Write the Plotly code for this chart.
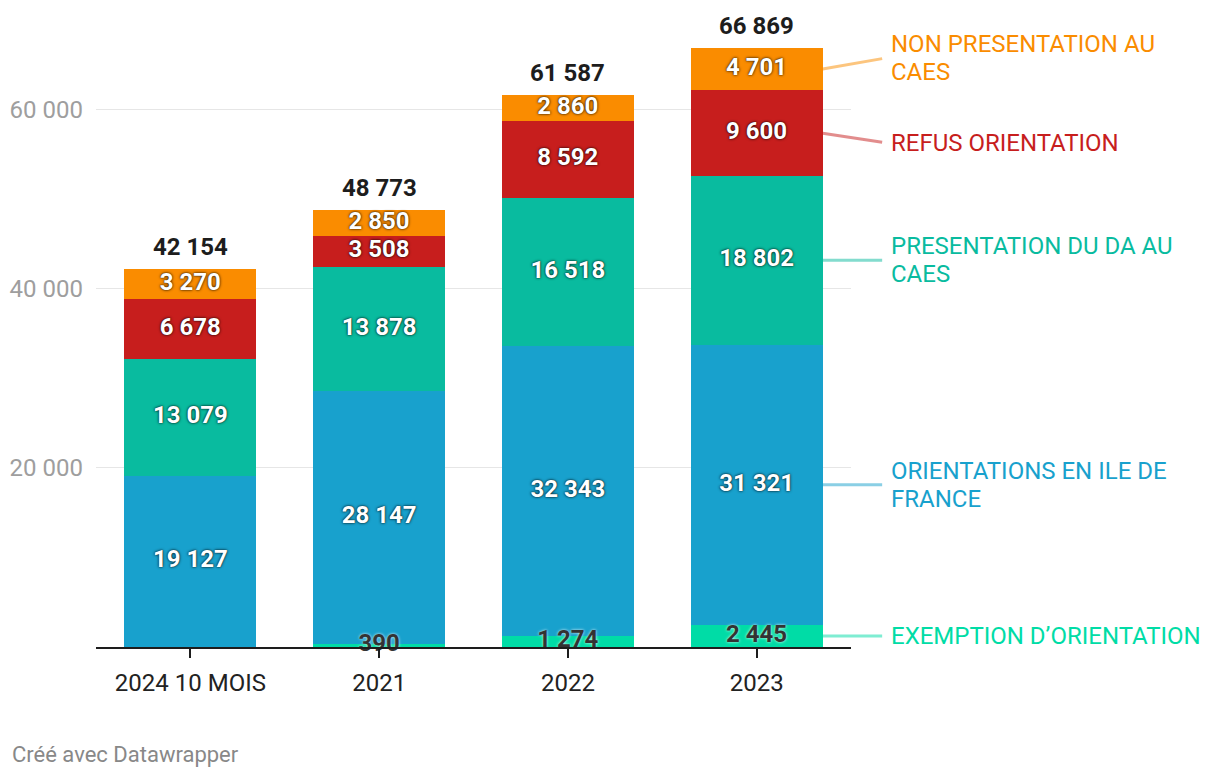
import plotly.graph_objects as go

# ---------------- data ----------------
categories = ["2024 10 MOIS", "2021", "2022", "2023"]
exemption = [0, 390, 1274, 2445]
orientations_idf = [19127, 28147, 32343, 31321]
presentation_da = [13079, 13878, 16518, 18802]
refus = [6678, 3508, 8592, 9600]
non_presentation = [3270, 2850, 2860, 4701]
y_tick_values = [20000, 40000, 60000]

series = [
    ("EXEMPTION D’ORIENTATION", exemption, "#00dca6", ["EXEMPTION D’ORIENTATION"]),
    ("ORIENTATIONS EN ILE DE FRANCE", orientations_idf, "#18a1cd", ["ORIENTATIONS EN ILE DE", "FRANCE"]),
    ("PRESENTATION DU DA AU CAES", presentation_da, "#09bb9f", ["PRESENTATION DU DA AU", "CAES"]),
    ("REFUS ORIENTATION", refus, "#c71e1d", ["REFUS ORIENTATION"]),
    ("NON PRESENTATION AU CAES", non_presentation, "#fa8c00", ["NON PRESENTATION AU", "CAES"]),
]
connector_colors = {
    "#00dca6": "rgba(0,220,166,0.5)",
    "#18a1cd": "rgba(24,161,205,0.5)",
    "#09bb9f": "rgba(9,187,159,0.5)",
    "#c71e1d": "rgba(199,30,29,0.5)",
    "#fa8c00": "rgba(250,140,0,0.5)",
}
# vertical nudge (data units) for direct labels to avoid collisions
label_nudge = {"NON PRESENTATION AU CAES": 1200, "REFUS ORIENTATION": -1050}

FONT = "Roboto"
BARGAP = 0.3


def fmt(v):
    return f"{v:,}".replace(",", " ")


fig = go.Figure()
n = len(categories)
idx = list(range(n))
base = [0] * n
label_points = []
for name, vals, color, lines in series:
    fig.add_trace(go.Bar(
        x=categories, y=vals, name=name, marker=dict(color=color, line=dict(width=0)),
        showlegend=False, hovertemplate="%{x}<br>" + name + ": %{y}<extra></extra>",
    ))
    mids = [b + v / 2 for b, v in zip(base, vals)]
    light = color == "#00dca6"
    txt = [fmt(v) if v > 0 else "" for v in vals]
    fig.add_trace(go.Scatter(
        x=categories, y=mids, mode="text", text=txt, showlegend=False, hoverinfo="skip",
        cliponaxis=False,
        textfont=dict(family=FONT, size=24, weight=700,
                      color="#333333" if light else "#ffffff",
                      shadow=("0px 0px 3px rgba(255,255,255,0.9)" if light
                              else "0px 0px 3px rgba(0,0,0,0.9), 0px 0px 1px rgba(0,0,0,0.6)")),
    ))
    label_points.append((name, mids[-1], color, lines))
    base = [b + v for b, v in zip(base, vals)]

totals = base
for i, t in zip(idx, totals):
    fig.add_annotation(x=i, y=t, xref="x", yref="y", text=fmt(t), showarrow=False,
                       yanchor="bottom", yshift=6,
                       font=dict(family=FONT, size=24, color="#1d1d1d", weight=700))

last = n - 1
bar_edge = last + (1 - BARGAP) / 2
conn_end = last + 0.673
label_x = last + 0.70
label_x_paper = (label_x + 0.5) / n
for name, mid, color, lines in label_points:
    ly = mid + label_nudge.get(name, 0)
    fig.add_annotation(x=bar_edge, y=mid, ax=conn_end, ay=ly, xref="x", yref="y", axref="x", ayref="y",
                       text="", showarrow=True, arrowhead=0, arrowwidth=3,
                       arrowcolor=connector_colors[color], standoff=0, startstandoff=0,
                       font=dict(size=1))
    k = len(lines)
    for i, line in enumerate(lines):
        shift = (k - 1) * 14 - i * 28
        fig.add_annotation(x=label_x_paper, xref="paper", y=ly, yref="y", text=line, showarrow=False,
                           xanchor="left", yanchor="middle",
                           yshift=shift, font=dict(family=FONT, size=24, color=color))

fig.add_annotation(xref="paper", yref="paper", x=-0.1134, y=-0.1708, text="Créé avec Datawrapper",
                   showarrow=False, xanchor="left", yanchor="middle",
                   font=dict(family=FONT, size=22, color="#888888"))

fig.update_layout(
    width=1212, height=770,
    margin=dict(l=88, r=369, t=12, b=131, pad=0, autoexpand=False),
    barmode="stack", bargap=BARGAP,
    plot_bgcolor="white", paper_bgcolor="white",
    separators=". ",
    font=dict(family=FONT, size=24, color="#222222"),
    xaxis=dict(type="category", range=[-0.5, n - 0.5], showgrid=False, showline=True, automargin=False,
               linecolor="#1d1d1d", linewidth=2, ticks="outside", ticklen=9, tickwidth=2,
               tickcolor="#1d1d1d", ticklabelstandoff=4,
               tickfont=dict(family=FONT, size=24, color="#222222"), fixedrange=True),
    yaxis=dict(range=[0, 70000], tickvals=y_tick_values, tickformat=",d", showgrid=True, automargin=False,
               gridcolor="#e6e6e6", gridwidth=1, zeroline=False, showline=False, ticks="",
               ticklabelstandoff=12, tickfont=dict(family=FONT, size=24, color="#9e9e9e"),
               fixedrange=True),
)

fig.write_html("out.html")
